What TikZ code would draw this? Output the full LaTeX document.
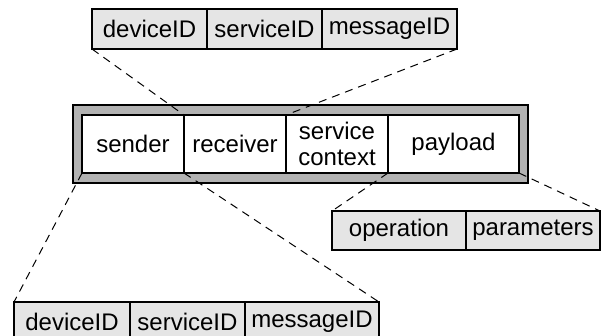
\documentclass[tikz,border=0pt]{standalone}
\usepackage{fontspec}
\setmainfont{Liberation Sans}
\usetikzlibrary{positioning}
\definecolor{idgray}{gray}{0.9}
\definecolor{framegray}{gray}{0.7}
\newcommand{\cellfont}{\fontsize{24}{26}\selectfont}
\tikzset{
	idcell/.style={draw,line width=2pt,fill=idgray,outer sep=0pt,inner sep=0pt,
		minimum height=40pt,font=\cellfont},
	msgcell/.style={draw,line width=2pt,fill=white,outer sep=0pt,inner sep=0pt,
		minimum height=58pt,font=\cellfont,align=center},
	zoomline/.style={dashed,dash pattern=on 8pt off 6pt,line width=1pt}
}

\begin{document}
\begin{tikzpicture}[x=1pt,y=-1pt]
	\useasboundingbox (0,0) rectangle (602,335);
	% message with its frame
	\node[draw,line width=2.5pt,fill=framegray,outer sep=0pt,
	minimum width=455pt,minimum height=78pt,anchor=north west] (frame) at (73,105) {};
	\node[msgcell,minimum width=102pt,anchor=north west] (sender) at (82,115) {sender};
	\node[msgcell,minimum width=102pt,right=0pt of sender] (receiver) {receiver};
	\node[msgcell,minimum width=102pt,right=0pt of receiver] (context) {service\\context};
	\node[msgcell,minimum width=131pt,right=0pt of context] (payload) {payload};
	% receiver fields
	\node[idcell,minimum width=115pt,anchor=north west] (topdev) at (92,9) {deviceID};
	\node[idcell,minimum width=115pt,right=0pt of topdev] (topserv) {serviceID};
	\node[idcell,minimum width=135pt,right=0pt of topserv] (topmsg) {messageID};
	% sender fields
	\node[idcell,minimum width=116pt,anchor=north west] (botdev) at (14,302) {deviceID};
	\node[idcell,minimum width=115pt,right=0pt of botdev] (botserv) {serviceID};
	\node[idcell,minimum width=134pt,right=0pt of botserv] (botmsg) {messageID};
	% payload fields
	\node[idcell,minimum width=134pt,minimum height=39pt,anchor=north west] (oper) at (332,211) {operation};
	\node[idcell,minimum width=134pt,minimum height=39pt,right=0pt of oper] (param) {parameters};
	% zoom lines
	\draw[zoomline] (topdev.south west) -- (receiver.north west);
	\draw[zoomline] (topmsg.south east) -- (context.north west);
	\draw[zoomline] (sender.south west) -- (botdev.north west);
	\draw[zoomline] (receiver.south west) -- (botmsg.north east);
	\draw[zoomline] (context.south east) -- (oper.north west);
	\draw[zoomline] (payload.south east) -- (param.north east);
\end{tikzpicture}
\end{document}
